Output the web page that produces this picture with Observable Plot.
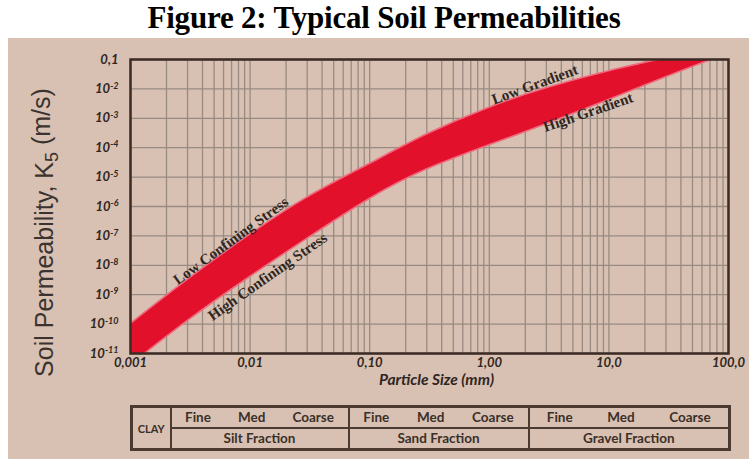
<!DOCTYPE html>
<html><head><meta charset="utf-8">
<script src="https://cdn.jsdelivr.net/npm/d3@7"></script>
<script src="https://cdn.jsdelivr.net/npm/@observablehq/plot@0.6"></script>
<style>
html,body{margin:0;padding:0;background:#fff;}
body{width:756px;height:459px;overflow:hidden;position:relative;}
#title{position:absolute;left:6px;top:2px;width:756px;text-align:center;font-family:"Liberation Serif","Times New Roman",serif;font-weight:bold;font-size:31px;line-height:32px;color:#000;letter-spacing:-0.2px;white-space:nowrap;}
#panel{position:absolute;left:8px;top:38px;width:741px;height:421px;background:#d8c1b2;}
#chart{position:absolute;left:0;top:0;}
#soil{position:absolute;left:122px;top:367px;width:598px;height:42px;border-collapse:collapse;border:3px solid #4a3a32;font-family:Lato,"Open Sans",sans-serif;font-weight:bold;font-size:13.5px;color:#3b2f29;table-layout:fixed;}
#soil td{border:2px solid #4a3a32;padding:0;height:19px;text-align:center;line-height:17px;}
#soil td.clay{font-size:11px;}
#soil td .row{display:flex;justify-content:space-around;}
</style></head>
<body>
<div id="title">Figure 2: Typical Soil Permeabilities</div>
<div id="panel"><div id="chart"></div><table id="soil"></table></div>
<script>
// ---- data ----
const sizes   = [0.001, 0.003, 0.01, 0.03, 0.1, 0.3, 1, 3, 10, 30, 100]; // particle size, mm
const kUpper  = [1e-10, 3.2e-9, 1.1e-7, 2e-6, 2.8e-5, 2.8e-4, 2.3e-3, 1.05e-2, 4e-2, 0.11, 0.32]; // m/s: low confining stress / low gradient
const kLower  = [4e-12, 1.26e-10, 4e-9, 7.9e-8, 1.8e-6, 1.8e-5, 1.2e-4, 6.3e-4, 4.2e-3, 2.5e-2, 0.16]; // m/s: high confining stress / high gradient

const xTickValues = [0.001, 0.01, 0.1, 1, 10, 100];
const xTickLabels = ["0,001", "0,01", "0,10", "1,00", "10,0", "100,0"];
const yTickValues = [0.1, 1e-2, 1e-3, 1e-4, 1e-5, 1e-6, 1e-7, 1e-8, 1e-9, 1e-10, 1e-11];
const yTickLabels = ["0,1", "10^-2", "10^-3", "10^-4", "10^-5", "10^-6", "10^-7", "10^-8", "10^-9", "10^-10", "10^-11"];

const noteLabels = ["Low Confining Stress", "High Confining Stress", "Low Gradient", "High Gradient"];
const noteX      = [0.0069, 0.014, 2.4, 6.7];
const noteY      = [6.8e-8, 4.1e-9, 1.4e-2, 1.6e-3];
const noteAngle  = [-36, -35, -20, -19];

const grades    = ["Fine", "Med", "Coarse"];
const fractions = ["Silt Fraction", "Sand Fraction", "Gravel Fraction"];
const clayLabel = "CLAY";

const xLabel = "Particle Size (mm)";
const yLabel = "Soil Permeability, K_5 (m/s)";

// ---- build tables for Plot ----
const band = sizes.map((s, i) => ({size: s, lo: kLower[i], hi: kUpper[i]}));
const notes = noteLabels.map((t, i) => ({t, x: noteX[i], y: noteY[i], a: noteAngle[i]}));
const xGrid = d3.scaleLog().domain([0.001, 100]).ticks(); // 1..9 x each decade
const yGrid = yTickValues;
const xFmt = new Map(xTickValues.map((v, i) => [v, xTickLabels[i]]));
const yFmt = new Map(yTickValues.map((v, i) => [v, yTickLabels[i]]));

const ink = "#2f2622";
const gridC = "#998a82";

const chart = Plot.plot({
  width: 741,
  height: 360,
  marginLeft: 122,
  marginRight: 21,
  marginTop: 21,
  marginBottom: 45,
  style: {background: "transparent", fontFamily: "Lato, 'Open Sans', sans-serif", fontSize: "12px", color: ink},
  x: {type: "log", domain: [0.001, 100]},
  y: {type: "log", domain: [1e-11, 0.1]},
  marks: [
    Plot.ruleX(xGrid, {stroke: gridC, strokeWidth: 1.3}),
    Plot.ruleY(yGrid, {stroke: gridC, strokeWidth: 1.3}),
    Plot.areaY(band, {x: "size", y1: "lo", y2: "hi", fill: "#e3102c", stroke: "#ef6a7d", strokeWidth: 1.6, curve: "natural", clip: true}),
    Plot.text(notes, {x: "x", y: "y", text: "t", rotate: "a", fontFamily: "'Liberation Serif', serif", fontWeight: "bold", fontSize: 15, fill: ink}),
    Plot.frame({stroke: "#3b2b24", strokeWidth: 2.5}),
    Plot.axisX(xTickValues, {tickSize: 0, tickPadding: 4, tickFormat: d => xFmt.get(d), label: null, fontWeight: "bold", fontStyle: "italic", fontSize: 13, fill: ink}),
    Plot.axisY(yTickValues, {tickSize: 0, tickPadding: 12, tickFormat: d => yFmt.get(d), label: null, fontWeight: "bold", fontStyle: "italic", fontSize: 13, fill: ink}),
    Plot.text([xLabel], {frameAnchor: "bottom", dx: 7, dy: 31, fontWeight: "bold", fontStyle: "italic", fontSize: 15.5, fill: ink}),
    Plot.text([yLabel], {frameAnchor: "left", textAnchor: "middle", dx: -86, dy: 26, rotate: -90, fontFamily: "'Liberation Sans', Arial, sans-serif", fontSize: 25, fill: "#3a3330"})
  ]
});
document.getElementById("chart").append(chart);

// superscripts / subscripts as real text
const NS = "http://www.w3.org/2000/svg";
chart.querySelectorAll("text").forEach(t => {
  const s = t.textContent;
  if (s.includes("^")) {
    const [b, e] = s.split("^");
    t.textContent = "";
    const a = document.createElementNS(NS, "tspan"); a.textContent = b;
    const c = document.createElementNS(NS, "tspan"); c.textContent = e;
    c.setAttribute("dy", "-0.5em"); c.setAttribute("font-size", "9");
    t.append(a, c);
  } else if (s.includes("K_5")) {
    const [b, e] = s.split("K_5");
    t.textContent = "";
    const a = document.createElementNS(NS, "tspan"); a.textContent = b + "K";
    const c = document.createElementNS(NS, "tspan"); c.textContent = "5";
    c.setAttribute("dy", "0.3em"); c.setAttribute("font-size", "18");
    const d = document.createElementNS(NS, "tspan"); d.textContent = e;
    d.setAttribute("dy", "-0.3em");
    t.append(a, c, d);
  }
});

// size-class table
const tbl = document.getElementById("soil");
const colW = [39, 178, 180, 201];
const cg = document.createElement("colgroup");
colW.forEach(w => { const c = document.createElement("col"); c.style.width = w + "px"; cg.append(c); });
tbl.append(cg);
const r1 = tbl.insertRow(), r2 = tbl.insertRow();
const clay = r1.insertCell(); clay.rowSpan = 2; clay.className = "clay"; clay.textContent = clayLabel;
fractions.forEach((f, i) => {
  const c = r1.insertCell();
  const row = document.createElement("div"); row.className = "row";
  grades.forEach(g => { const sp = document.createElement("span"); sp.textContent = g; row.append(sp); });
  c.append(row);
  const d = r2.insertCell(); d.textContent = f;
});
</script>
</body></html>
